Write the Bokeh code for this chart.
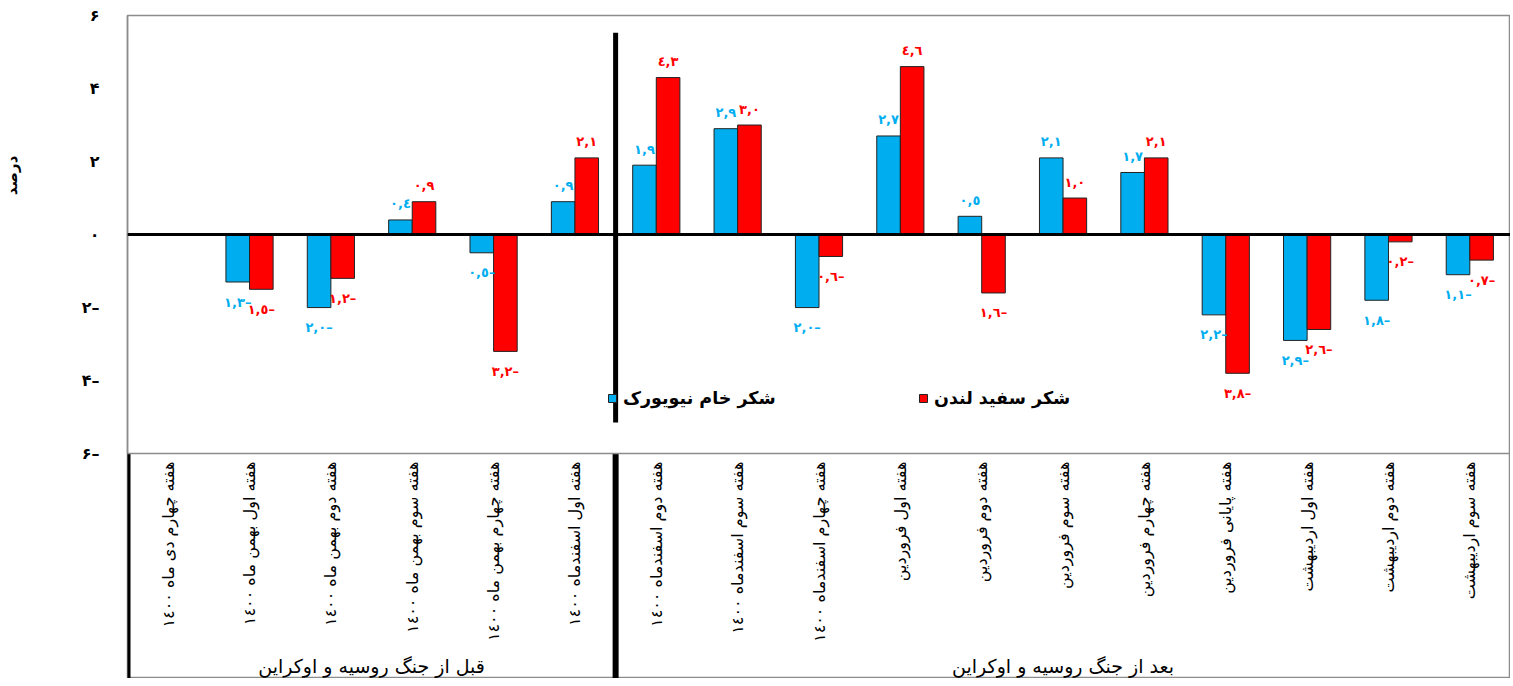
import math
import numpy as np
from bokeh.plotting import figure
from bokeh.models import (FactorRange, Range1d, Span, Legend, LegendItem, LinearAxis,
                          FixedTicker, ColumnDataSource)
from bokeh.transform import dodge
from bokeh.core.properties import value
from bokeh.embed import file_html
from bokeh.resources import INLINE

# ---------------- data ----------------
categories = [
    "هفته چهارم دی ماه ١٤٠٠",
    "هفته اول بهمن ماه ١٤٠٠",
    "هفته دوم بهمن ماه ١٤٠٠",
    "هفته سوم بهمن ماه ١٤٠٠",
    "هفته چهارم بهمن ماه ١٤٠٠",
    "هفته اول اسفندماه ١٤٠٠",
    "هفته دوم اسفندماه ١٤٠٠",
    "هفته سوم اسفندماه ١٤٠٠",
    "هفته چهارم اسفندماه ١٤٠٠",
    "هفته اول فروردین",
    "هفته دوم فروردین",
    "هفته سوم فروردین",
    "هفته چهارم فروردین",
    "هفته پایانی فروردین",
    "هفته اول اردیبهشت",
    "هفته دوم اردیبهشت",
    "هفته سوم اردیبهشت",
]
series_names = ["شکر خام نیویورک", "شکر سفید لندن"]
ny_raw = [None, -1.3, -2.0, 0.4, -0.5, 0.9, 1.9, 2.9, -2.0, 2.7, 0.5, 2.1, 1.7, -2.2, -2.9, -1.8, -1.1]
london_white = [None, -1.5, -1.2, 0.9, -3.2, 2.1, 4.3, 3.0, -0.6, 4.6, -1.6, 1.0, 2.1, -3.8, -2.6, -0.2, -0.7]
groups = ["قبل از جنگ روسیه و اوکراین", "بعد از جنگ روسیه و اوکراین"]
group_sizes = [6, 11]
y_ticks = [-6, -4, -2, 0, 2, 4, 6]
y_axis_title = "درصد"

# ---------------- helpers ----------------
AR_DIGITS = str.maketrans("0123456789", "٠١٢٣٤٥٦٧٨٩")
FA_DIGITS = str.maketrans("0123456789", "۰۱۲۳۴۵۶۷۸۹")


def ar_label(v):
    s = f"{abs(v):.1f}".replace(".", ",").translate(AR_DIGITS)
    return s + "–" if v < 0 else s


def fa_tick(v):
    s = str(abs(v)).translate(FA_DIGITS)
    return s + "–" if v < 0 else s


def factor_at(pos):
    """synthetic position -> (factor, offset)"""
    i = min(int(math.floor(pos)), len(categories) - 1)
    return (categories[i], pos - i - 0.5)


BLUE = "#00AEEF"
RED = "#FF0000"
FONT = "DejaVu Sans"
Y_BOTTOM = -12.16

p = figure(
    x_range=FactorRange(factors=categories, range_padding=0),
    y_range=Range1d(Y_BOTTOM, 6),
    width=1510, height=678,
    output_backend="svg", toolbar_location=None,
    min_border_left=127, min_border_top=15, min_border_right=0, min_border_bottom=0,
)
p.xaxis.visible = False
p.xgrid.visible = False
p.ygrid.visible = False
p.outline_line_color = "#8C8C8C"
p.outline_line_width = 1.5
p.background_fill_color = "white"
p.border_fill_color = "white"

# y axis
ya = p.yaxis[0]
ya.ticker = FixedTicker(ticks=y_ticks)
ya.major_label_overrides = {t: fa_tick(t) for t in y_ticks}
ya.bounds = (min(y_ticks), max(y_ticks))
ya.axis_line_color = "#8C8C8C"
ya.axis_line_width = 1.5
ya.major_tick_line_color = None
ya.minor_tick_line_color = None
ya.major_label_standoff = 22
ya.major_label_text_font = FONT
ya.major_label_text_font_size = "16px"
ya.major_label_text_font_style = "bold"
ya.major_label_text_color = "black"

# y axis title as a second (outer) left axis with a single labelled tick
TITLE_Y = 1.62
ta = LinearAxis(ticker=FixedTicker(ticks=[TITLE_Y]),
                major_label_overrides={TITLE_Y: y_axis_title},
                major_label_orientation="vertical",
                axis_line_color=None, major_tick_line_color=None, minor_tick_line_color=None,
                major_label_standoff=51, major_label_text_font=FONT,
                major_label_text_font_size="15px", major_label_text_font_style="bold",
                major_label_text_color="black")
p.add_layout(ta, "left")

# data sources
ny = np.array([np.nan if v is None else v for v in ny_raw], dtype=float)
ld = np.array([np.nan if v is None else v for v in london_white], dtype=float)
src = ColumnDataSource(dict(cat=categories, ny=ny, ld=ld))

W = 0.29
r_blue = p.vbar(x=dodge("cat", -W / 2, range=p.x_range), top="ny", bottom=0, width=W,
                source=src, fill_color=BLUE, line_color="#222222", line_width=1)
r_red = p.vbar(x=dodge("cat", W / 2, range=p.x_range), top="ld", bottom=0, width=W,
               source=src, fill_color=RED, line_color="#222222", line_width=1)


def label_source(vals):
    cs, ys, ts, offs = [], [], [], []
    for c, v in zip(categories, vals):
        if v is None:
            continue
        cs.append(c)
        ys.append(v)
        ts.append(ar_label(v))
        offs.append(-16 if v >= 0 else 20)
    return ColumnDataSource(dict(cat=cs, y=ys, t=ts, off=offs))


for vals, off, col in [(ny_raw, -W / 2, BLUE), (london_white, W / 2, RED)]:
    ls = label_source(vals)
    p.text(x=dodge("cat", off, range=p.x_range), y="y", text="t", y_offset="off",
           source=ls, text_align="center", text_baseline="middle",
           text_font=value(FONT), text_font_size="13px", text_font_style="bold",
           text_color=col)

# zero line and -6 baseline
p.add_layout(Span(location=0, dimension="width", line_color="black", line_width=3))
p.add_layout(Span(location=min(y_ticks), dimension="width", line_color="#8C8C8C", line_width=1.5))

# separators
sep_x = (categories[group_sizes[0] - 1], 0.5)
left_x = (categories[0], -0.5)
p.segment(x0=[sep_x], y0=[-5.15], x1=[sep_x], y1=[5.53], line_color="black", line_width=5)
p.segment(x0=[sep_x, left_x], y0=[Y_BOTTOM, Y_BOTTOM], x1=[sep_x, left_x], y1=[-6, -6],
          line_color="black", line_width=6)

# category labels (below the -6 line)
csrc = ColumnDataSource(dict(cat=categories, y=[min(y_ticks)] * len(categories)))
p.text(x="cat", y="y", text="cat", source=csrc, angle=math.pi / 2, y_offset=8,
       text_align="right", text_baseline="middle", text_font=value(FONT),
       text_font_size="16px", text_color="black")

# group labels
gx, start = [], 0
for n in group_sizes:
    gx.append(factor_at(start + n / 2))
    start += n
gsrc = ColumnDataSource(dict(x=gx, y=[min(y_ticks)] * len(groups), t=groups))
p.text(x="x", y="y", text="t", source=gsrc, y_offset=212, text_align="center",
       text_baseline="middle", text_font=value(FONT), text_font_size="19px", text_color="black")

# legends
for r, name, loc in [(r_blue, series_names[0], (480, 270)), (r_red, series_names[1], (791, 270))]:
    lg = Legend(items=[LegendItem(label=name, renderers=[r])], location=loc,
                orientation="horizontal", background_fill_alpha=0, border_line_color=None,
                glyph_width=10, glyph_height=10, label_standoff=6, padding=0, margin=0,
                label_text_font=FONT, label_text_font_size="17.5px",
                label_text_font_style="bold", label_text_color="black")
    p.add_layout(lg, "center")

open("out.html", "w").write(file_html(p, INLINE))
